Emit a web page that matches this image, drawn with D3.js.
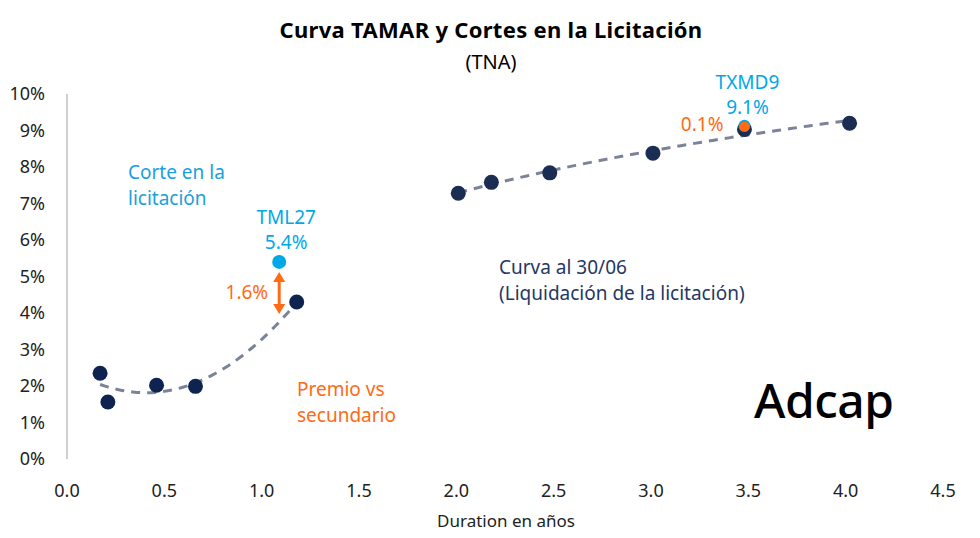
<!DOCTYPE html>
<html>
<head>
<meta charset="utf-8">
<script src="https://cdn.jsdelivr.net/npm/d3@7"></script>
<style>
  body { margin: 0; background: #fff; }
  text { font-family: "Noto Sans", "Open Sans", sans-serif; }
</style>
</head>
<body>
<script>
// Curva al 30/06 (duration, TNA %)
var shortDur = [0.17, 0.21, 0.46, 0.66, 1.18];
var shortTna = [2.35, 1.56, 2.02, 1.99, 4.30];
var longDur = [2.01, 2.18, 2.48, 3.01, 3.48, 4.02];
var longTna = [7.28, 7.58, 7.84, 8.38, 9.03, 9.20];

// cortes de la licitación
var cutNames = ['TML27', 'TXMD9'];
var cutDur = [1.09, 3.48];
var cutTna = [5.4, 9.1];
var premio = ['1.6%', '0.1%'];

var xTicks = [0, 0.5, 1, 1.5, 2, 2.5, 3, 3.5, 4, 4.5];
var yTicks = [0, 1, 2, 3, 4, 5, 6, 7, 8, 9, 10];

var W = 980, H = 538;
var navy = '#0f2350', lblue = '#00a8e8', orange = '#ff6a13', grey = '#7a8398';
var fsNote = 19;

var svg = d3.select('body').append('svg').attr('width', W).attr('height', H);

var x = d3.scaleLinear().domain([0, 4.5]).range([67, 943]);
var y = d3.scaleLinear().domain([0, 10]).range([459, 94]);

// axes
svg.append('line')
	.attr('x1', x(0)).attr('x2', x(0))
	.attr('y1', y(10)).attr('y2', y(0))
	.attr('stroke', '#bfbfbf').attr('stroke-width', 1.5);

svg.selectAll('.ytick').data(yTicks).enter().append('text')
	.attr('x', 45).attr('y', function(d) { return y(d) + 6; })
	.attr('text-anchor', 'end').attr('font-size', 18).attr('fill', '#222')
	.text(function(d) { return d + '%'; });

svg.selectAll('.xtick').data(xTicks).enter().append('text')
	.attr('x', function(d) { return x(d); }).attr('y', 497)
	.attr('text-anchor', 'middle').attr('font-size', 18).attr('fill', '#222')
	.text(function(d) { return d.toFixed(1); });

svg.append('text').attr('x', 506).attr('y', 527).attr('text-anchor', 'middle')
	.attr('font-size', 17).attr('fill', '#222').text('Duration en años');

// title
svg.append('text').attr('x', 491).attr('y', 38).attr('text-anchor', 'middle')
	.attr('font-size', 22).attr('font-weight', 'bold').attr('letter-spacing', 0.3).attr('fill', '#000')
	.text('Curva TAMAR y Cortes en la Licitación');
svg.append('text').attr('x', 491).attr('y', 69).attr('text-anchor', 'middle')
	.attr('font-size', 20).attr('fill', '#000').text('(TNA)');

// least squares fits for the trendlines
function polyFit(xs, ys) {
	// quadratic: solve normal equations
	var s = [0, 0, 0, 0, 0], t = [0, 0, 0];
	xs.forEach(function(xv, i) {
		for (var k = 0; k < 5; k++) s[k] += Math.pow(xv, k);
		for (var j = 0; j < 3; j++) t[j] += ys[i] * Math.pow(xv, j);
	});
	var A = [[s[0], s[1], s[2], t[0]], [s[1], s[2], s[3], t[1]], [s[2], s[3], s[4], t[2]]];
	for (var i = 0; i < 3; i++) {
		for (var r = i + 1; r < 3; r++) {
			var f = A[r][i] / A[i][i];
			for (var c = i; c < 4; c++) A[r][c] -= f * A[i][c];
		}
	}
	var b = [0, 0, 0];
	for (var i2 = 2; i2 >= 0; i2--) {
		var v = A[i2][3];
		for (var c2 = i2 + 1; c2 < 3; c2++) v -= A[i2][c2] * b[c2];
		b[i2] = v / A[i2][i2];
	}
	return function(xv) { return b[0] + b[1] * xv + b[2] * xv * xv; };
}
function logFit(xs, ys) {
	var lx = xs.map(Math.log);
	var mx = d3.mean(lx), my = d3.mean(ys);
	var num = d3.sum(lx, function(v, i) { return (v - mx) * (ys[i] - my); });
	var den = d3.sum(lx, function(v) { return (v - mx) * (v - mx); });
	var b = num / den, a = my - b * mx;
	return function(xv) { return a + b * Math.log(xv); };
}

var line = d3.line().x(function(d) { return x(d[0]); }).y(function(d) { return y(d[1]); }).curve(d3.curveBasis);

function trend(xs, fn) {
	var lo = d3.min(xs), hi = d3.max(xs);
	var pts = d3.range(0, 41).map(function(i) { var xv = lo + (hi - lo) * i / 40; return [xv, fn(xv)]; });
	svg.append('path').attr('d', line(pts)).attr('fill', 'none')
		.attr('stroke', grey).attr('stroke-width', 3).attr('stroke-dasharray', '9,7');
}
trend(shortDur, polyFit(shortDur, shortTna));
trend(longDur, logFit(longDur, longTna));

// curve points
svg.selectAll('.sp').data(shortDur).enter().append('circle')
	.attr('cx', function(d) { return x(d); })
	.attr('cy', function(d, i) { return y(shortTna[i]); })
	.attr('r', 7.5).attr('fill', navy);
svg.selectAll('.lp').data(longDur).enter().append('circle')
	.attr('cx', function(d) { return x(d); })
	.attr('cy', function(d, i) { return y(longTna[i]); })
	.attr('r', 7.5).attr('fill', '#1b2d52');

// cut points
svg.append('circle').attr('cx', x(cutDur[0])).attr('cy', y(cutTna[0])).attr('r', 7).attr('fill', lblue);
svg.append('circle').attr('cx', x(cutDur[1])).attr('cy', y(cutTna[1]) - 1).attr('r', 6).attr('fill', lblue);
svg.append('circle').attr('cx', x(cutDur[1])).attr('cy', y(cutTna[1])).attr('r', 5).attr('fill', orange);

cutNames.forEach(function(n, i) {
	var cx = x(cutDur[i]) + (i === 0 ? 7 : 3);
	svg.append('text').attr('x', cx).attr('y', y(cutTna[i]) - 38).attr('text-anchor', 'middle')
		.attr('font-size', fsNote).attr('fill', lblue).text(n);
	svg.append('text').attr('x', cx).attr('y', y(cutTna[i]) - 13).attr('text-anchor', 'middle')
		.attr('font-size', fsNote).attr('fill', lblue).text(cutTna[i].toFixed(1) + '%');
});

// premio arrow (TML27)
var ax = x(cutDur[0]);
var aTop = y(cutTna[0]) + 10, aBot = y(shortTna[4]) + 12;
svg.append('line').attr('x1', ax).attr('x2', ax).attr('y1', aTop + 8).attr('y2', aBot - 8)
	.attr('stroke', orange).attr('stroke-width', 3);
svg.append('path').attr('d', 'M' + (ax - 6) + ',' + (aTop + 10) + 'L' + ax + ',' + aTop + 'L' + (ax + 6) + ',' + (aTop + 10) + 'Z').attr('fill', orange);
svg.append('path').attr('d', 'M' + (ax - 6) + ',' + (aBot - 10) + 'L' + ax + ',' + aBot + 'L' + (ax + 6) + ',' + (aBot - 10) + 'Z').attr('fill', orange);

svg.append('text').attr('x', ax - 11).attr('y', (aTop + aBot) / 2 + 6).attr('text-anchor', 'end')
	.attr('font-size', fsNote).attr('fill', orange).text(premio[0]);
svg.append('text').attr('x', x(cutDur[1]) - 21).attr('y', y(cutTna[1]) + 4).attr('text-anchor', 'end')
	.attr('font-size', fsNote).attr('fill', orange).text(premio[1]);

// annotations
function block(lines, tx, ty, col) {
	var t = svg.append('text').attr('x', tx).attr('y', ty).attr('font-size', fsNote).attr('fill', col);
	lines.forEach(function(l, i) {
		t.append('tspan').attr('x', tx).attr('dy', i === 0 ? 0 : 26).text(l);
	});
}
block(['Corte en la', 'licitación'], 128, 179, '#1aa0dc');
block(['Curva al 30/06', '(Liquidación de la licitación)'], 499, 274, '#1f3864');
block(['Premio vs', 'secundario'], 297, 396, orange);

// logo
svg.append('text').attr('x', 754).attr('y', 418).attr('font-size', 48)
	.attr('font-family', 'Roboto').attr('font-weight', 500).attr('letter-spacing', -0.5)
	.attr('fill', '#000').text('Adcap');
</script>
</body>
</html>
